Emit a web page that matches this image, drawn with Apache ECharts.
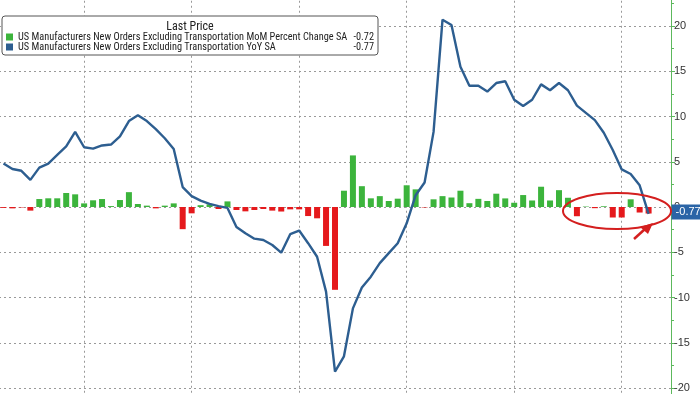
<!DOCTYPE html>
<html><head><meta charset="utf-8">
<script src="https://cdn.jsdelivr.net/npm/echarts@6/dist/echarts.min.js"></script>
<style>html,body{margin:0;padding:0;background:#fff}#c{width:700px;height:394px}</style>
</head><body><div id="c"></div>
<script>
const categories = [
 '2017-03','2017-04','2017-05','2017-06','2017-07','2017-08','2017-09','2017-10','2017-11','2017-12',
 '2018-01','2018-02','2018-03','2018-04','2018-05','2018-06','2018-07','2018-08','2018-09','2018-10','2018-11','2018-12',
 '2019-01','2019-02','2019-03','2019-04','2019-05','2019-06','2019-07','2019-08','2019-09','2019-10','2019-11','2019-12',
 '2020-01','2020-02','2020-03','2020-04','2020-05','2020-06','2020-07','2020-08','2020-09','2020-10','2020-11','2020-12',
 '2021-01','2021-02','2021-03','2021-04','2021-05','2021-06','2021-07','2021-08','2021-09','2021-10','2021-11','2021-12',
 '2022-01','2022-02','2022-03','2022-04','2022-05','2022-06','2022-07','2022-08','2022-09','2022-10','2022-11','2022-12',
 '2023-01','2023-02','2023-03','2023-04','2023-05'
];
const momChange = [
 -0.1,-0.15,-0.05,-0.4,0.88,0.96,0.96,1.55,1.4,0.4,
 0.74,0.88,0.1,0.77,1.64,0.33,0.15,-0.15,0.15,0.4,-2.45,-0.7,
 0.2,0.3,-0.22,0.62,-0.33,-0.48,-0.33,-0.22,-0.4,-0.5,-0.26,-0.26,
 -1.0,-1.25,-4.3,-9.15,1.8,5.7,2.3,0.96,1.2,0.66,0.92,2.4,
 1.95,-0.05,0.85,1.2,1.05,1.8,0.42,0.9,0.66,1.47,0.95,0.47,
 1.32,0.72,2.24,0.72,1.86,1.02,-1.02,0.05,-0.13,0.08,-1.16,-1.16,
 0.85,-0.61,-0.72
];
const yoyChange = [
 4.8,4.2,4.0,3.0,4.35,4.8,5.75,6.7,8.3,6.6,
 6.45,6.8,6.9,7.8,9.5,10.15,9.5,8.6,7.6,6.4,2.2,1.2,
 0.7,0.35,0.1,-0.1,-2.2,-2.9,-3.5,-3.65,-4.2,-5.05,-3.0,-2.6,
 -4.0,-5.5,-9.35,-18.2,-16.5,-11.2,-8.9,-7.7,-6.2,-5.1,-4.0,-1.8,
 1.3,2.7,8.3,20.7,20.1,15.5,13.4,13.4,12.75,13.7,13.9,11.85,
 11.15,11.85,13.55,12.9,13.7,12.9,11.2,10.4,9.6,8.2,6.3,4.15,
 3.65,2.4,-0.77
];
const legendTitle = 'Last Price';
const momName = 'US Manufacturers New Orders Excluding Transportation MoM Percent Change SA';
const yoyName = 'US Manufacturers New Orders Excluding Transportation YoY SA';

const GREEN = '#3cb43c', RED = '#e5191c', BLUE = '#2d5e90', AXISG = '#5cb85c';
const lastMom = momChange[momChange.length - 1];
const lastYoy = yoyChange[yoyChange.length - 1];
const lastVals = {}; lastVals[momName] = lastMom.toFixed(2); lastVals[yoyName] = lastYoy.toFixed(2);
const narrow = '"Roboto Condensed","Liberation Sans Narrow","Arial Narrow",sans-serif';

const chart = echarts.init(document.getElementById('c'));
chart.setOption({
  animation: false,
  grid: { left: -1, right: 29, top: -19.25, bottom: -39.25, outerBoundsMode: 'none', containLabel: false },
  title: {
    text: legendTitle, left: 190, top: 21, textAlign: 'center', padding: 0, z: 10,
    textStyle: { fontFamily: narrow, fontSize: 12, fontWeight: 'normal', color: '#222' }
  },
  legend: {
    orient: 'vertical', left: 2, top: 16, padding: [16, 4, 3, 4], itemGap: 0,
    itemWidth: 7, itemHeight: 7, icon: 'rect',
    backgroundColor: '#fff', borderColor: '#555', borderWidth: 1, borderRadius: 3,
    data: [momName, yoyName],
    formatter: function (name) { return '{n|' + name + '}{v|' + lastVals[name] + '}'; },
    textStyle: {
      fontFamily: narrow, fontSize: 10.3, color: '#222',
      rich: {
        n: { width: 331, fontFamily: narrow, fontSize: 10.3, color: '#222', lineHeight: 12 },
        v: { width: 25, align: 'right', fontFamily: narrow, fontSize: 10.3, color: '#222', lineHeight: 12 }
      }
    }
  },
  xAxis: {
    type: 'category', data: categories, boundaryGap: true,
    axisLine: { show: false }, axisTick: { show: false }, axisLabel: { show: false },
    splitLine: {
      show: true, alignWithLabel: true,
      interval: function (i) { return i % 12 === 9; },
      lineStyle: { color: '#999', type: [2, 3], width: 1 }
    }
  },
  yAxis: {
    type: 'value', position: 'right', min: -25, max: 25, interval: 5,
    axisLine: { show: true, lineStyle: { color: AXISG, width: 1 } },
    axisTick: { show: true, length: 4, lineStyle: { color: AXISG } },
    minorTick: { show: true, splitNumber: 2, length: 3, lineStyle: { color: AXISG } },
    axisLabel: { color: '#333', fontSize: 11, margin: 3, fontFamily: '"Liberation Sans",Arial,sans-serif' },
    splitLine: { show: true, lineStyle: { color: '#999', type: [2, 3], width: 1 } }
  },
  series: [
    {
      name: momName, type: 'bar', barWidth: 6, itemStyle: { color: GREEN },
      data: momChange.map(function (v) { return { value: v, itemStyle: { color: v < 0 ? RED : GREEN } }; })
    },
    {
      name: yoyName, type: 'line', symbol: 'none', z: 3, clip: false,
      lineStyle: { color: BLUE, width: 2.4 }, itemStyle: { color: BLUE },
      data: yoyChange,
      endLabel: {
        show: true, distance: 5, offset: [18, -2],
        formatter: function () { return lastYoy.toFixed(2); },
        backgroundColor: '#2a64a6', color: '#fff', padding: [2, 4, 2, 4],
        fontSize: 11, fontFamily: '"Liberation Sans",Arial,sans-serif'
      }
    }
  ],
  graphic: [
    { type: 'ellipse', shape: { cx: 617, cy: 211, rx: 54, ry: 18 }, z: 20,
      style: { fill: 'none', stroke: '#d41f1f', lineWidth: 2 } },
    { type: 'line', shape: { x1: 634, y1: 239, x2: 645, y2: 229 }, z: 20,
      style: { stroke: '#d41f1f', lineWidth: 2.5 } },
    { type: 'polygon', shape: { points: [[653, 223], [640, 227], [648, 234]] }, z: 20,
      style: { fill: '#d41f1f' } }
  ]
});
</script>
</body></html>
